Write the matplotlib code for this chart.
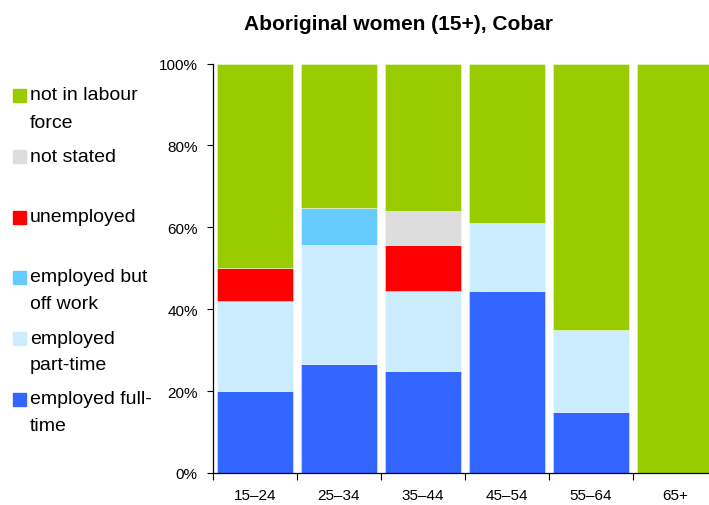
import matplotlib
matplotlib.use("Agg")
import matplotlib.pyplot as plt
from matplotlib.patches import Rectangle
import numpy as np

plt.rcParams['font.family'] = ['Liberation Sans', 'DejaVu Sans']

categories = ["15–24", "25–34", "35–44", "45–54", "55–64", "65+"]
full_time  = [20.0, 26.5, 25.0, 44.4, 15.0, 0.0]
part_time  = [22.0, 29.2, 19.5, 16.7, 20.0, 0.0]
off_work   = [0.0, 9.0, 0.0, 0.0, 0.0, 0.0]
unemployed = [8.0, 0.0, 11.1, 0.0, 0.0, 0.0]
not_stated = [0.0, 0.0, 8.3, 0.0, 0.0, 0.0]
not_in_lf  = [50.0, 35.3, 36.1, 38.9, 65.0, 100.0]

series = [
    ("employed full-\ntime", full_time, "#3366FF"),
    ("employed\npart-time", part_time, "#CCECFF"),
    ("employed but\noff work", off_work, "#66CCFF"),
    ("unemployed", unemployed, "#FF0000"),
    ("not stated", not_stated, "#DDDDDD"),
    ("not in labour\nforce", not_in_lf, "#99CC00"),
]

W, H = 709, 506
fig = plt.figure(figsize=(W / 100, H / 100), dpi=100)
ax = fig.add_axes([213 / W, (H - 474) / H, 504 / W, (474 - 64.5) / H])

x = np.arange(len(categories))
bottom = np.zeros(len(categories))
for name, vals, col in series:
    v = np.array(vals)
    ax.bar(x, v, bottom=bottom, width=0.91, color=col,
           edgecolor=(1, 1, 1, 0.45), linewidth=0.6)
    bottom += v

ax.set_xlim(-0.5, len(categories) - 0.5)
ax.set_ylim(0, 100)
ax.set_yticks([0, 20, 40, 60, 80, 100])
ax.set_yticklabels(["0%", "20%", "40%", "60%", "80%", "100%"], fontsize=11)
ax.tick_params(axis='y', length=4, width=0.8, pad=7)

ax.set_xticks(np.arange(len(categories) + 1) - 0.5)
ax.set_xticklabels([])
ax.tick_params(axis='x', which='major', length=5, width=0.8, direction='out')
ax.set_xticks(x, minor=True)
ax.set_xticklabels(categories, minor=True, fontsize=11)
ax.tick_params(axis='x', which='minor', length=0, pad=11)

for s in ['top', 'right']:
    ax.spines[s].set_visible(False)
for s in ['left', 'bottom']:
    ax.spines[s].set_linewidth(0.9)

fig.text(398 / W, 1 - 25 / H, "Aboriginal women (15+), Cobar",
         ha='center', va='center', fontsize=15, fontweight='bold')

# manual legend (top to bottom)
legend_y = [96, 157, 218, 278, 339, 400]
for (name, vals, col), yy in zip(reversed(series), legend_y):
    fig.patches.append(Rectangle((13 / W, 1 - (yy + 6.5) / H), 13 / W, 13 / H,
                                 transform=fig.transFigure, color=col))
    for i, line in enumerate(name.split("\n")):
        fig.text(30 / W, 1 - (yy + i * 27) / H, line, ha='left',
                 va='center', fontsize=14)

fig.savefig("out.png", dpi=100)
